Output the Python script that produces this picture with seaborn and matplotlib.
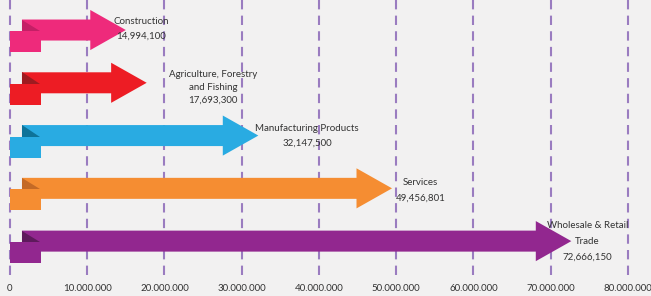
import matplotlib.pyplot as plt
import matplotlib.transforms as mtransforms
from matplotlib.patches import Polygon, Rectangle
import seaborn as sns

sectors = [
    "Construction",
    "Agriculture, Forestry\nand Fishing",
    "Manufacturing Products",
    "Services",
    "Wholesale & Retail\nTrade",
]
values = [14994100, 17693300, 32147500, 49456801, 72666150]
ticks = [0, 10e6, 20e6, 30e6, 40e6, 50e6, 60e6, 70e6, 80e6]
tick_labels = ["0", "10.000.000", "20.000.000", "30.000.000", "40.000.000",
               "50.000.000", "60.000.000", "70.000.000", "80.000.000"]
colors = ["#ee2a7b", "#ed1c24", "#29abe2", "#f58d32", "#92278f"]
folds = ["#c41f66", "#9e1b20", "#0e7399", "#c46a26", "#5e1a5c"]

# layout tweaks (in millions / rows) so labels sit like the original
label_dx = [2.0, 8.6, 6.3, 3.7, 2.1]
label_dy = [-0.02, 0.08, 0.0, 0.04, 0.0]
label_ls = [1.9, 1.55, 1.8, 1.9, 2.0]

BG = "#f2f1f1"
GRID = "#9a7cc0"

sns.set_theme(style="white")
plt.rcParams["font.family"] = ["Lato", "DejaVu Sans"]

fig = plt.figure(figsize=(6.51, 2.96), dpi=100)
fig.patch.set_facecolor(BG)
ax = fig.add_axes([0, 0, 1, 1])
ax.set_facecolor(BG)
ax.set_xlim(-1.294, 82.98)
ax.set_ylim(5.04, -0.569)
ax.axis("off")

trans = mtransforms.blended_transform_factory(ax.transData, ax.transAxes)
for t, lab in zip(ticks, tick_labels):
    x = t / 1e6
    ax.plot([x, x], [0.071, 1.0], transform=trans, color=GRID, lw=1.5,
            dashes=(4.5, 3), zorder=1)
    ax.text(x, 0.025, lab, transform=trans, ha="center", va="center",
            fontsize=7, color="#333333")

shaft_h = 0.199
head_h = 0.38
head_len = 4.6
start = 1.55
for i, (name, v) in enumerate(zip(sectors, values)):
    tip = v / 1e6
    base = tip - head_len
    arrow = Polygon([
        (start, i - shaft_h), (base, i - shaft_h), (base, i - head_h),
        (tip, i), (base, i + head_h), (base, i + shaft_h), (start, i + shaft_h),
    ], closed=True, color=colors[i], lw=0, zorder=3)
    ax.add_patch(arrow)
    fold = Polygon([(start, i - shaft_h), (start, i + 0.02), (3.9, i + 0.02)],
                   closed=True, color=folds[i], lw=0, zorder=4)
    ax.add_patch(fold)
    ax.add_patch(Rectangle((0, i + 0.02), 4.0, 0.398, color=colors[i],
                           lw=0, zorder=5))
    ax.text(tip + label_dx[i], i + label_dy[i], f"{name}\n{v:,}",
            ha="center", va="center", fontsize=7, linespacing=label_ls[i],
            color="#333333", zorder=6)

fig.savefig("out.png", dpi=100, facecolor=BG)
